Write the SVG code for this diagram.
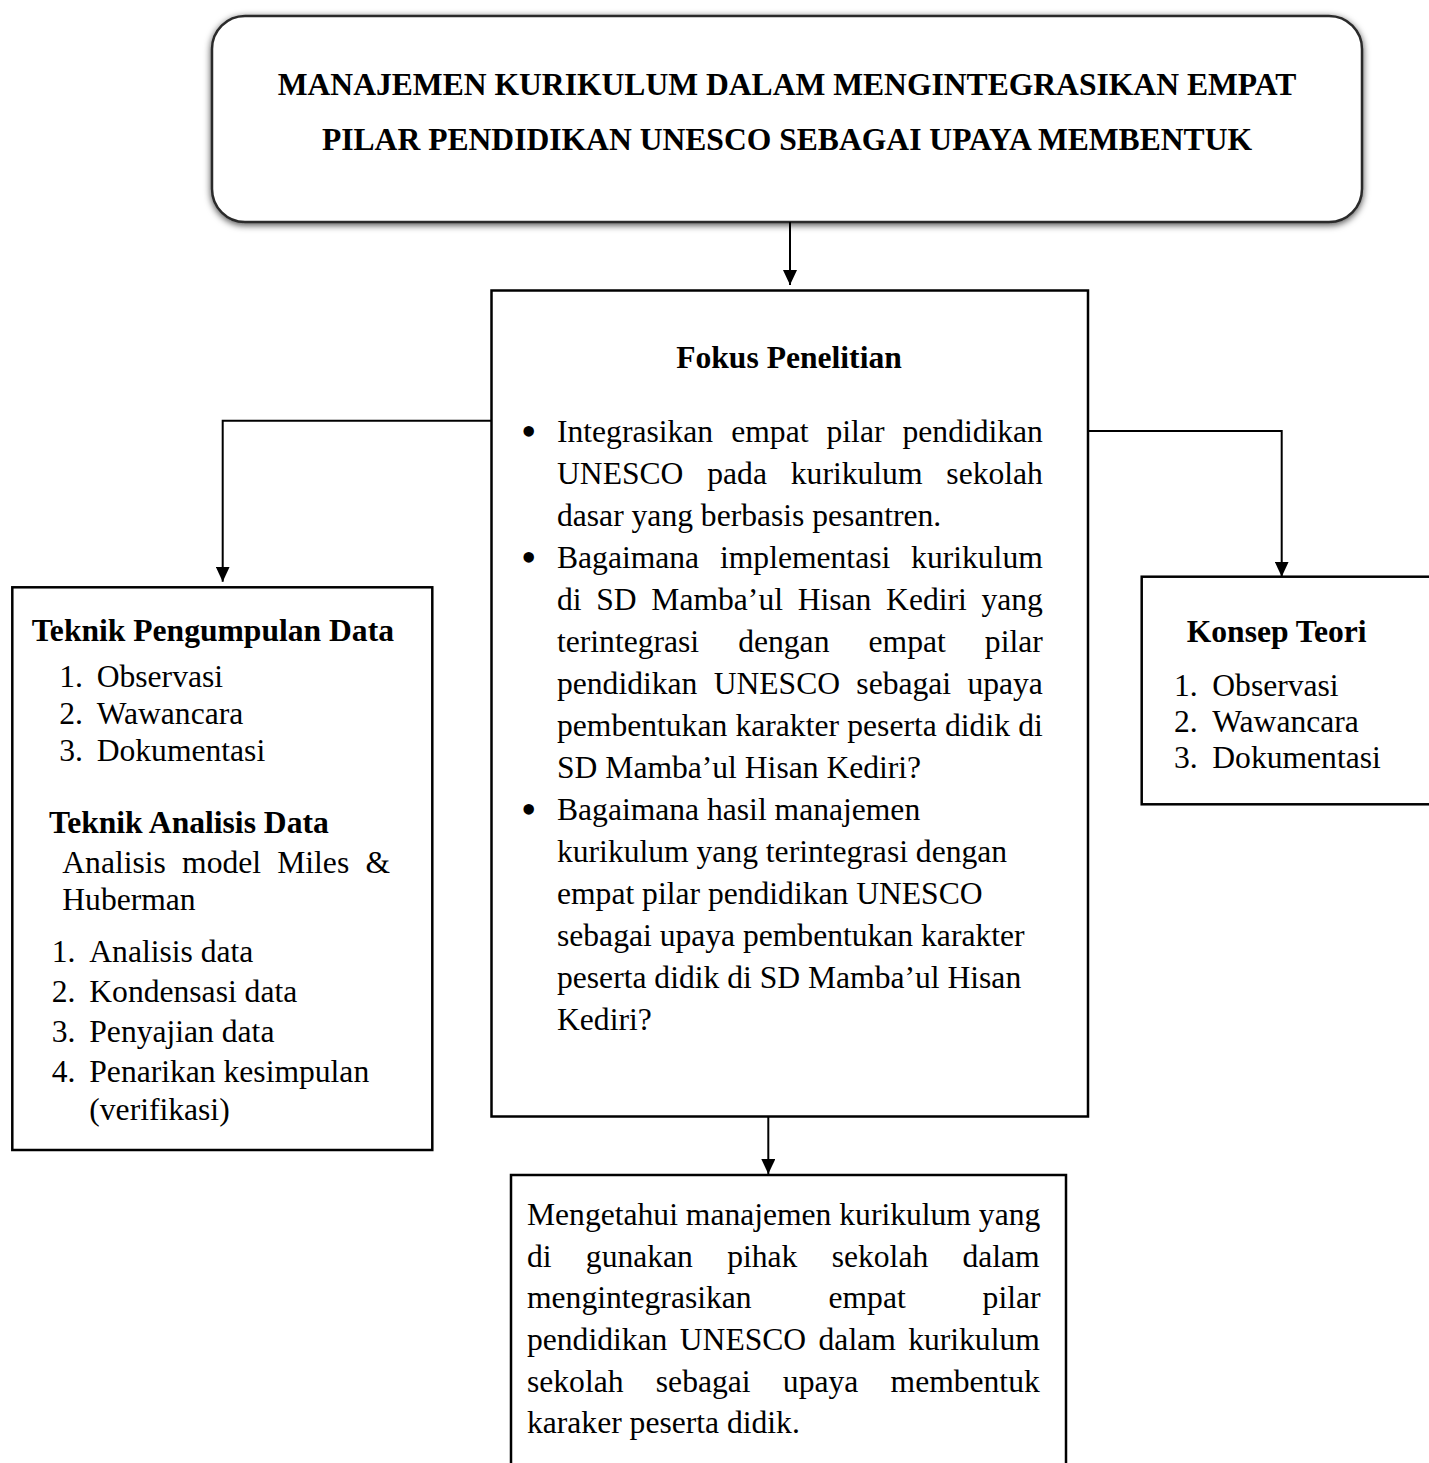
<svg xmlns="http://www.w3.org/2000/svg" width="1429" height="1463" viewBox="0 0 1429 1463">
<style>
text{font-family:"Liberation Serif","Times New Roman",serif;font-size:31.6px;fill:#000}
.b{font-weight:bold}
.c{text-anchor:middle}
.box{fill:#fff;stroke:#000;stroke-width:2.5}
.conn{fill:none;stroke:#000;stroke-width:2}
.bul{font-size:44px}
</style>
<defs>
<marker id="ah" viewBox="0 0 15 14" refX="15" refY="7" markerWidth="15" markerHeight="14" markerUnits="userSpaceOnUse" orient="auto">
<path d="M0,0 L15,7 L0,14 z" fill="#000"/>
</marker>
<filter id="sh" x="-5%" y="-10%" width="110%" height="125%">
<feDropShadow dx="0" dy="2" stdDeviation="3.5" flood-color="#000" flood-opacity="0.7"/>
</filter>
</defs>
<rect width="1429" height="1463" fill="#fff"/>

<g id="title">
<rect x="212" y="16" width="1150" height="206" rx="33" ry="33" fill="#fff" stroke="#2a2a2a" stroke-width="2.5" filter="url(#sh)"/>
<text class="b c" x="787" y="94.5">MANAJEMEN KURIKULUM DALAM MENGINTEGRASIKAN EMPAT</text>
<text class="b c" x="787" y="149.5">PILAR PENDIDIKAN UNESCO SEBAGAI UPAYA MEMBENTUK</text>
</g>

<g id="fokus">
<rect class="box" x="491.5" y="290.5" width="596.5" height="826"/>
<text class="b c" x="789" y="367.7">Fokus Penelitian</text>
<text class="bul" x="521" y="446">•</text>
<text x="557" y="442" word-spacing="10.2">Integrasikan empat pilar pendidikan</text>
<text x="557" y="484" word-spacing="16">UNESCO pada kurikulum sekolah</text>
<text x="557" y="526">dasar yang berbasis pesantren.</text>
<text class="bul" x="521" y="572">•</text>
<text x="557" y="568" word-spacing="13">Bagaimana implementasi kurikulum</text>
<text x="557" y="610" word-spacing="6.8">di SD Mamba’ul Hisan Kediri yang</text>
<text x="557" y="652" word-spacing="31.2">terintegrasi dengan empat pilar</text>
<text x="557" y="694" word-spacing="8.4">pendidikan UNESCO sebagai upaya</text>
<text x="557" y="736" word-spacing="0.4">pembentukan karakter peserta didik di</text>
<text x="557" y="778">SD Mamba’ul Hisan Kediri?</text>
<text class="bul" x="521" y="824">•</text>
<text x="557" y="820">Bagaimana hasil manajemen</text>
<text x="557" y="862">kurikulum yang terintegrasi dengan</text>
<text x="557" y="904">empat pilar pendidikan UNESCO</text>
<text x="557" y="946">sebagai upaya pembentukan karakter</text>
<text x="557" y="988">peserta didik di SD Mamba’ul Hisan</text>
<text x="557" y="1030">Kediri?</text>
</g>

<g id="teknik">
<rect class="box" x="12.3" y="587.3" width="420" height="562.7"/>
<text class="b" x="31.7" y="641">Teknik Pengumpulan Data</text>
<text x="59.3" y="687">1.</text><text x="96.7" y="687">Observasi</text>
<text x="59.3" y="724">2.</text><text x="96.7" y="724">Wawancara</text>
<text x="59.3" y="761">3.</text><text x="96.7" y="761">Dokumentasi</text>
<text class="b" x="49" y="833">Teknik Analisis Data</text>
<text x="62.3" y="873" word-spacing="8.3">Analisis model Miles &amp;</text>
<text x="62.3" y="910">Huberman</text>
<text x="51.7" y="962">1.</text><text x="89.3" y="962">Analisis data</text>
<text x="51.7" y="1002">2.</text><text x="89.3" y="1002">Kondensasi data</text>
<text x="51.7" y="1042">3.</text><text x="89.3" y="1042">Penyajian data</text>
<text x="51.7" y="1082">4.</text><text x="89.3" y="1082">Penarikan kesimpulan</text>
<text x="89.3" y="1120">(verifikasi)</text>
</g>

<g id="konsep">
<rect class="box" x="1141.7" y="576.7" width="320" height="227.6"/>
<text class="b" x="1186.7" y="641.7">Konsep Teori</text>
<text x="1174" y="696">1.</text><text x="1212.3" y="696">Observasi</text>
<text x="1174" y="732.3">2.</text><text x="1212.3" y="732.3">Wawancara</text>
<text x="1174" y="768.3">3.</text><text x="1212.3" y="768.3">Dokumentasi</text>
</g>

<g id="tujuan">
<rect class="box" x="511" y="1175" width="555" height="320"/>
<text x="527" y="1225">Mengetahui manajemen kurikulum yang</text>
<text x="527" y="1266.7" word-spacing="26.4">di gunakan pihak sekolah dalam</text>
<text x="527" y="1308.3" word-spacing="69">mengintegrasikan empat pilar</text>
<text x="527" y="1350" word-spacing="4.5">pendidikan UNESCO dalam kurikulum</text>
<text x="527" y="1391.7" word-spacing="24.4">sekolah sebagai upaya membentuk</text>
<text x="527" y="1433.3">karaker peserta didik.</text>
</g>

<g id="connectors">
<path class="conn" d="M790,222 V285" marker-end="url(#ah)"/>
<path class="conn" d="M491.5,420.7 H222.7 V581.7" marker-end="url(#ah)"/>
<path class="conn" d="M1088,431 H1281.7 V576.7" marker-end="url(#ah)"/>
<path class="conn" d="M768.3,1116.7 V1174" marker-end="url(#ah)"/>
</g>
</svg>
